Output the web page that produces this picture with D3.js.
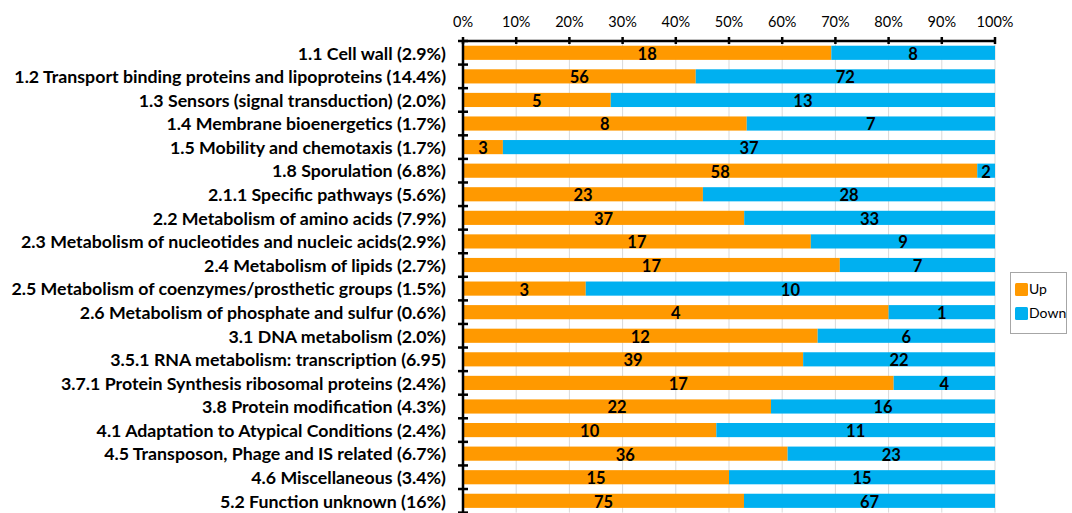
<!DOCTYPE html>
<html>
<head>
<meta charset="utf-8">
<script src="https://cdn.jsdelivr.net/npm/d3@7"></script>
<style>
  html, body { margin: 0; padding: 0; background: #fff; }
  svg { display: block; }
</style>
</head>
<body>
<svg id="chart" width="1072" height="513"></svg>
<script>
// Functional categories with the number of up- and down-regulated genes
const categories = [
  "1.1 Cell wall (2.9%)",
  "1.2 Transport binding proteins and lipoproteins (14.4%)",
  "1.3 Sensors (signal transduction) (2.0%)",
  "1.4 Membrane bioenergetics (1.7%)",
  "1.5 Mobility and chemotaxis (1.7%)",
  "1.8 Sporulation (6.8%)",
  "2.1.1 Specific pathways (5.6%)",
  "2.2 Metabolism of amino acids (7.9%)",
  "2.3 Metabolism of nucleotides and nucleic acids(2.9%)",
  "2.4 Metabolism of lipids (2.7%)",
  "2.5 Metabolism of coenzymes/prosthetic groups (1.5%)",
  "2.6 Metabolism of phosphate and sulfur (0.6%)",
  "3.1 DNA metabolism (2.0%)",
  "3.5.1 RNA metabolism: transcription (6.95)",
  "3.7.1 Protein Synthesis ribosomal proteins (2.4%)",
  "3.8 Protein modification (4.3%)",
  "4.1 Adaptation to Atypical Conditions (2.4%)",
  "4.5 Transposon, Phage and IS related (6.7%)",
  "4.6 Miscellaneous (3.4%)",
  "5.2 Function unknown (16%)"
];
const upCounts   = [18, 56, 5, 8, 3, 58, 23, 37, 17, 17, 3, 4, 12, 39, 17, 22, 10, 36, 15, 75];
const downCounts = [8, 72, 13, 7, 37, 2, 28, 33, 9, 7, 10, 1, 6, 22, 4, 16, 11, 23, 15, 67];
const seriesNames = ["Up", "Down"];
const percentTicks = [0, 0.1, 0.2, 0.3, 0.4, 0.5, 0.6, 0.7, 0.8, 0.9, 1.0];

const colors = { Up: "#FF9900", Down: "#00B0F0" };
const font = "Lato, 'Open Sans', sans-serif";

const rows = categories.map((c, i) => ({ category: c, Up: upCounts[i], Down: downCounts[i] }));

const svg = d3.select("#chart");
const margin = { top: 41, left: 463, right: 77 };
const plotW = 1072 - margin.left - margin.right;   // 532
const plotH = 471.6;

const x = d3.scaleLinear().domain([0, 1]).range([margin.left, margin.left + plotW]);
const y = d3.scaleBand().domain(categories)
  .range([margin.top, margin.top + plotH])
  .paddingInner(0.4).paddingOuter(0.2);
const stepY = plotH / categories.length;

// vertical gridlines
svg.append("g").selectAll("line").data(percentTicks).join("line")
  .attr("x1", d => x(d)).attr("x2", d => x(d))
  .attr("y1", margin.top).attr("y2", margin.top + plotH)
  .attr("stroke", "#d9d9d9").attr("stroke-width", 1);

// stacked share bars
const stacked = d3.stack().keys(seriesNames)
  .offset(d3.stackOffsetExpand)(rows);

const layer = svg.append("g").selectAll("g").data(stacked).join("g")
  .attr("fill", d => colors[d.key]);

layer.selectAll("rect").data(d => d.map(p => ({ p, key: d.key }))).join("rect")
  .attr("x", d => x(d.p[0]))
  .attr("width", d => x(d.p[1]) - x(d.p[0]))
  .attr("y", d => y(d.p.data.category))
  .attr("height", y.bandwidth());

// count labels centred in each segment
layer.selectAll("text").data(d => d.map(p => ({ p, key: d.key }))).join("text")
  .attr("x", d => (x(d.p[0]) + x(d.p[1])) / 2)
  .attr("y", d => y(d.p.data.category) + y.bandwidth() / 2)
  .attr("dy", "0.42em")
  .attr("text-anchor", "middle")
  .attr("fill", "#000")
  .style("font-family", font)
  .style("font-weight", "bold")
  .style("font-size", "16.5px")
  .text(d => d.p.data[d.key]);

// top percent axis
const topAxis = svg.append("g");
topAxis.append("line")
  .attr("x1", x(0)).attr("x2", x(1))
  .attr("y1", margin.top).attr("y2", margin.top)
  .attr("stroke", "#000").attr("stroke-width", 2.5);
topAxis.selectAll("line.tick").data(percentTicks).join("line")
  .attr("class", "tick")
  .attr("x1", d => x(d)).attr("x2", d => x(d))
  .attr("y1", margin.top - 4).attr("y2", margin.top + 3)
  .attr("stroke", "#000").attr("stroke-width", 2.5);
topAxis.selectAll("text").data(percentTicks).join("text")
  .attr("x", d => x(d)).attr("y", 27)
  .attr("text-anchor", "middle")
  .style("font-family", font)
  .style("font-size", "14.5px")
  .attr("fill", "#000")
  .text(d => d3.format(".0%")(d));

// left category axis with boundary ticks
const leftAxis = svg.append("g");
leftAxis.append("line")
  .attr("x1", x(0)).attr("x2", x(0))
  .attr("y1", margin.top).attr("y2", margin.top + plotH)
  .attr("stroke", "#000").attr("stroke-width", 2.5);
leftAxis.selectAll("line.tick").data(d3.range(categories.length + 1)).join("line")
  .attr("class", "tick")
  .attr("x1", x(0) - 5).attr("x2", x(0) + 5)
  .attr("y1", i => margin.top + i * stepY).attr("y2", i => margin.top + i * stepY)
  .attr("stroke", "#000").attr("stroke-width", 2.5);

const catLabels = leftAxis.selectAll("text").data(categories).join("text")
  .attr("x", 446)
  .attr("y", d => y(d) + y.bandwidth() / 2)
  .attr("dy", "0.38em")
  .attr("text-anchor", "end")
  .attr("fill", "#000")
  .style("font-family", font)
  .style("font-weight", "bold")
  .style("font-size", "16px")
  .text(d => d);

// size category labels so the longest line spans the same width
const longest = catLabels.filter((d, i) => i === 1).node().getComputedTextLength();
const fs = 16 * 432 / longest;
catLabels.style("font-size", fs + "px");

// legend
const legend = svg.append("g");
legend.append("rect")
  .attr("x", 1010.5).attr("y", 272.5).attr("width", 56).attr("height", 61)
  .attr("fill", "#fff").attr("stroke", "#a6a6a6").attr("stroke-width", 1);
legend.selectAll("g.item").data(seriesNames).join("g")
  .attr("class", "item")
  .each(function (d, i) {
    const g = d3.select(this);
    const yy = 283 + i * 24;
    g.append("rect").attr("x", 1015).attr("y", yy).attr("width", 13).attr("height", 13)
      .attr("rx", 1.5).attr("fill", colors[d]);
    g.append("text").attr("x", 1029).attr("y", yy + 11)
      .style("font-family", font)
      .style("font-size", "14px")
      .attr("fill", "#000")
      .text(d);
  });
</script>
</body>
</html>
